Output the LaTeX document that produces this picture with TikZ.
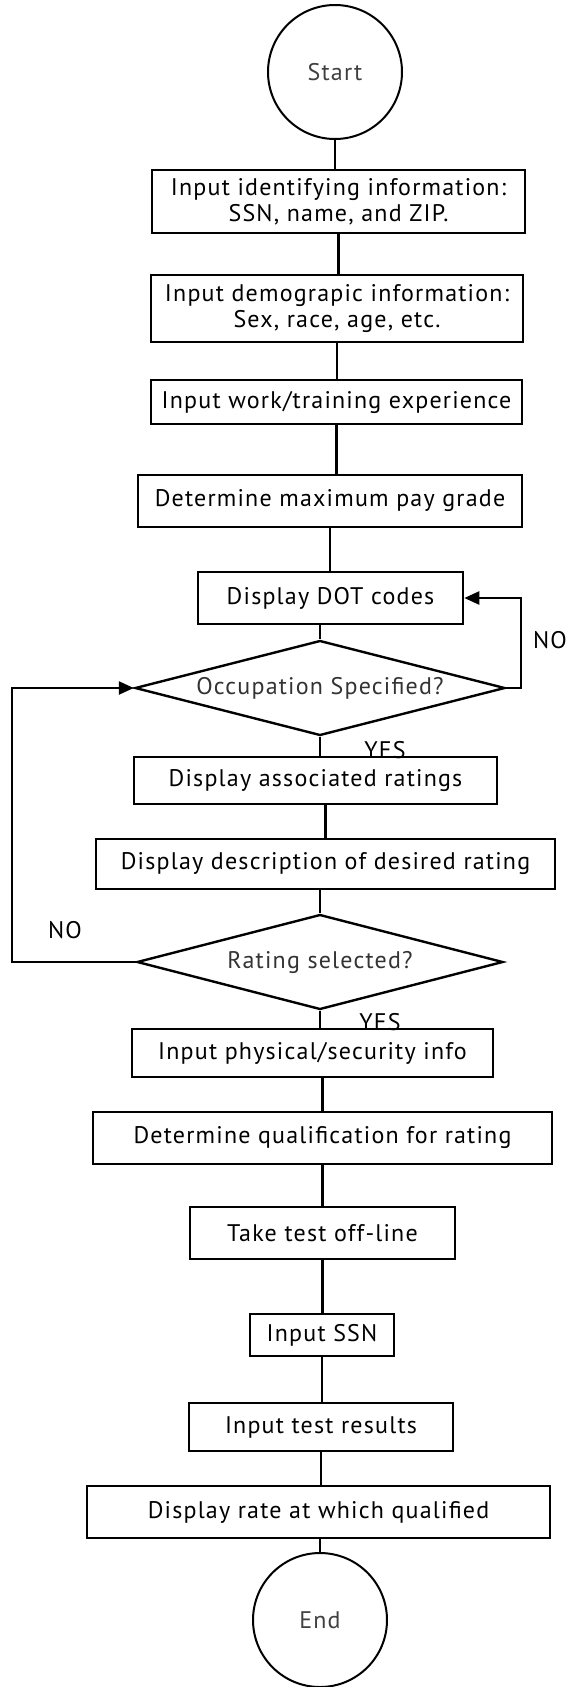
\documentclass[tikz,border=0pt]{standalone}
\usepackage{fontspec}
\setmainfont{PT Sans}[LetterSpace=5]
\usetikzlibrary{arrows.meta,shapes.geometric}
\tikzset{
  >={Triangle[length=7.5pt,width=6.5pt]},
  font=\fontsize{12}{13}\selectfont,
  box/.style={draw,line width=1.3pt,inner sep=0pt,align=center,minimum height=25pt},
  terminal/.style={draw,line width=1pt,circle,minimum size=67pt,inner sep=0pt,text=black!75},
  decision/.style={draw,line width=1.2pt,diamond,aspect=3.85,inner sep=0pt,minimum height=47.5pt,text=black!80},
  link/.style={line width=1.2pt},
  lbl/.style={inner sep=0pt},
}

\begin{document}
\begin{tikzpicture}[x=0.5pt,y=-0.5pt]
  \useasboundingbox (0,0) rectangle (569,1687);

  \node[terminal] (start) at (335,72) {Start};
  \node[box,minimum width=186.5pt,minimum height=31.5pt] (ident) at (338.5,201.5)
    {Input identifying information:\\SSN, name, and ZIP.};
  \node[box,minimum width=186pt,minimum height=33.5pt] (demog) at (337,308.5)
    {Input demograpic information:\\Sex, race, age, etc.};
  \node[box,minimum width=185.5pt,minimum height=22pt] (workexp) at (336.5,402)
    {Input work/training experience};
  \node[box,minimum width=192pt,minimum height=26pt] (paygrade) at (330,501)
    {Determine maximum pay grade};
  \node[box,minimum width=132.5pt,minimum height=26pt] (dotcodes) at (330.5,598)
    {Display DOT codes};
  \node[decision,minimum width=185pt] (occspec) at (320,688) {Occupation Specified?};
  \node[box,minimum width=181.5pt,minimum height=23.5pt] (assoc) at (315.5,780.5)
    {Display associated ratings};
  \node[box,minimum width=229.5pt] (descr) at (325.5,864)
    {Display description of desired rating};
  \node[decision,minimum width=183pt] (ratsel) at (320,962) {Rating selected?};
  \node[box,minimum width=180.5pt,minimum height=24pt] (physsec) at (312.5,1053)
    {Input physical/security info};
  \node[box,minimum width=229.5pt,minimum height=26pt] (qualif) at (322.5,1138)
    {Determine qualification for rating};
  \node[box,minimum width=132.5pt,minimum height=26pt] (offline) at (322.5,1233)
    {Take test off-line};
  \node[box,minimum width=72pt,minimum height=21pt] (ssn) at (322,1335) {Input SSN};
  \node[box,minimum width=132pt,minimum height=24pt] (results) at (321,1427)
    {Input test results};
  \node[box,minimum width=231.5pt,minimum height=26pt] (qualrate) at (318.5,1512)
    {Display rate at which qualified};
  \node[terminal] (finish) at (320,1620) {End};

  % main flow
  \foreach \a/\b in {start/ident,ident/demog,demog/workexp,workexp/paygrade,
      paygrade/dotcodes,occspec/assoc,ratsel/physsec,qualif/offline,
      offline/ssn,ssn/results,results/qualrate}
    \draw[link] (\a.south) -- (\a.south |- \b.north);
  \foreach \a/\b in {dotcodes/occspec,assoc/descr,descr/ratsel,physsec/qualif,
      qualrate/finish}
    \draw[link] (\a.south -| \b.north) -- (\b.north);

  % loops back
  \draw[link,->] (occspec.east) -- ++(15,0) |- (dotcodes.east);
  \draw[link,->] (ratsel.west) -- ++(-124,0) |- (occspec.west);

  \node[lbl] (noright) at (550,640) {NO};
  \node[lbl] (noleft) at (65,930) {NO};
  \node[lbl] (yesocc) at (385,750) {YES};
  \node[lbl] (yesrat) at (380,1022) {YES};
\end{tikzpicture}
\end{document}
